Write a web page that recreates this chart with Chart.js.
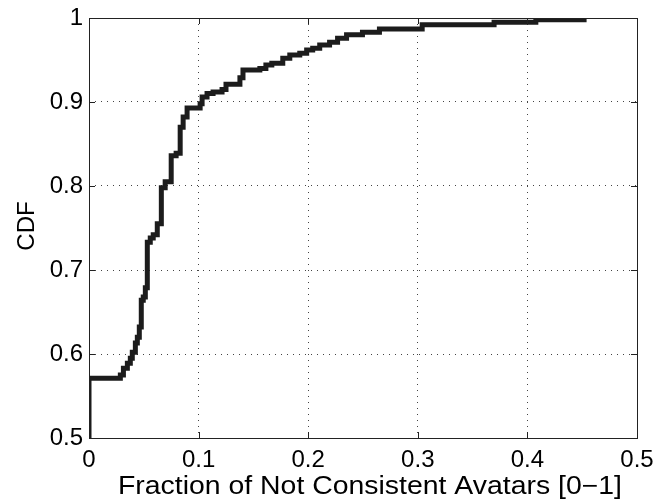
<!DOCTYPE html>
<html>
<head>
<meta charset="utf-8">
<script src="https://cdn.jsdelivr.net/npm/chart.js@4/dist/chart.umd.min.js"></script>
<style>
  html, body { margin: 0; padding: 0; background: #fff; }
  #wrap { width: 659px; height: 502px; }
</style>
</head>
<body>
<div id="wrap"><canvas id="cdfChart" width="659" height="502"></canvas></div>
<script>
// Valores (degraus da CDF)
const cdfX = [0, 0, 0.0286, 0.0314, 0.035, 0.0377, 0.0395, 0.0423, 0.0441, 0.0459, 0.0477, 0.0495, 0.0514,
  0.0532, 0.0559, 0.0586, 0.0623, 0.066, 0.0695, 0.075, 0.0795, 0.0832, 0.0859, 0.0895, 0.1014, 0.1032,
  0.1077, 0.1132, 0.1214, 0.125, 0.1377, 0.1405, 0.1559, 0.1614, 0.1668, 0.1768, 0.1832, 0.1923, 0.1986,
  0.2041, 0.2105, 0.2195, 0.2268, 0.235, 0.2495, 0.265, 0.304, 0.3696, 0.4077, 0.454];
const cdfY = [0.5, 0.571, 0.575, 0.583, 0.589, 0.595, 0.602, 0.613, 0.620, 0.632, 0.664, 0.668, 0.679,
  0.733, 0.738, 0.742, 0.755, 0.798, 0.805, 0.836, 0.839, 0.870, 0.882, 0.893, 0.898, 0.906,
  0.910, 0.912, 0.915, 0.921, 0.929, 0.938, 0.940, 0.944, 0.946, 0.952, 0.956, 0.958, 0.962,
  0.964, 0.968, 0.971, 0.976, 0.980, 0.983, 0.987, 0.992, 0.995, 0.998, 0.998];

const xTicks = [0, 0.1, 0.2, 0.3, 0.4, 0.5];
const yTicks = [0.5, 0.6, 0.7, 0.8, 0.9, 1];
const xLabel = 'Fraction of Not Consistent Avatars [0\u22121]';
const yLabel = 'CDF';

const FONT = "'Liberation Sans', Arial, Helvetica, sans-serif";

// Moldura, marcas de escala para dentro (estilo MATLAB) e títulos dos eixos
const boxPlugin = {
  id: 'boxPlugin',
  afterDraw(chart) {
    const { ctx, chartArea: a, scales } = chart;
    const tl = 6;
    ctx.save();
    ctx.strokeStyle = '#222';
    ctx.lineWidth = 1;
    ctx.beginPath();
    xTicks.forEach(v => {
      const px = Math.round(scales.x.getPixelForValue(v)) + 0.5;
      ctx.moveTo(px, a.bottom); ctx.lineTo(px, a.bottom - tl);
      ctx.moveTo(px, a.top); ctx.lineTo(px, a.top + tl);
    });
    yTicks.forEach(v => {
      const py = Math.round(scales.y.getPixelForValue(v)) + 0.5;
      ctx.moveTo(a.left, py); ctx.lineTo(a.left + tl, py);
      ctx.moveTo(a.right, py); ctx.lineTo(a.right - tl, py);
    });
    ctx.stroke();
    ctx.strokeRect(Math.round(a.left) + 0.5, Math.round(a.top) + 0.5,
      Math.round(a.right - a.left), Math.round(a.bottom - a.top));

    // título do eixo x (levemente esticado na horizontal, como na figura)
    ctx.fillStyle = '#000';
    ctx.font = '25px ' + FONT;
    ctx.textAlign = 'center';
    ctx.textBaseline = 'alphabetic';
    const w = ctx.measureText(xLabel).width;
    const sx = 504 / w;
    ctx.save();
    ctx.translate(370, 494);
    ctx.scale(sx, 1);
    ctx.fillText(xLabel, 0, 0);
    ctx.restore();

    // título do eixo y
    ctx.save();
    ctx.font = '24px ' + FONT;
    ctx.translate(34, 226);
    ctx.rotate(-Math.PI / 2);
    ctx.fillText(yLabel, 0, 0);
    ctx.restore();
    ctx.restore();
  }
};

const edgeAware = (ticks) => (c) =>
  (c.tick && (c.tick.value === ticks[0] || c.tick.value === ticks[ticks.length - 1])) ? 'rgba(0,0,0,0)' : '#444';

const ctx = document.getElementById('cdfChart').getContext('2d');
new Chart(ctx, {
  type: 'line',
  data: {
    datasets: [{
      data: cdfX.map((x, i) => ({ x: x, y: cdfY[i] })),
      borderColor: '#1c1c1c',
      borderWidth: 5,
      stepped: 'before',
      pointRadius: 0,
      fill: false,
      clip: 0,
      borderJoinStyle: 'miter',
      borderCapStyle: 'butt'
    }]
  },
  options: {
    responsive: false,
    animation: false,
    layout: { padding: { left: 0, right: 22, top: 18, bottom: 0 } },
    plugins: { legend: { display: false }, tooltip: { enabled: false } },
    scales: {
      x: {
        type: 'linear',
        min: 0,
        max: 0.5,
        afterBuildTicks: s => { s.ticks = xTicks.map(v => ({ value: v })); },
        afterFit: s => { s.height = 64; s.paddingLeft = 0; s.paddingRight = 0; },
        grid: { color: edgeAware(xTicks), drawTicks: false, lineWidth: 1 },
        border: { display: false, dash: [1, 5] },
        ticks: { color: '#000', font: { family: FONT, size: 24 }, padding: 8, maxRotation: 0,
          callback: v => String(v) }
      },
      y: {
        type: 'linear',
        min: 0.5,
        max: 1,
        afterBuildTicks: s => { s.ticks = yTicks.map(v => ({ value: v })); },
        afterFit: s => { s.width = 89; s.paddingTop = 0; s.paddingBottom = 0; },
        grid: { color: edgeAware(yTicks), drawTicks: false, lineWidth: 1 },
        border: { display: false, dash: [1, 5] },
        ticks: { color: '#000', font: { family: FONT, size: 24 }, padding: 6,
          callback: v => String(v) }
      }
    }
  },
  plugins: [boxPlugin]
});
</script>
</body>
</html>
